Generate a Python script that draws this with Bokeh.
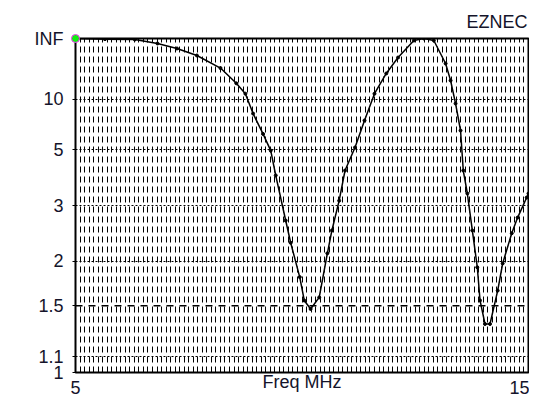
import numpy as np
from bokeh.plotting import figure
from bokeh.models import Range1d, FixedTicker, Label, Span
from bokeh.embed import file_html
from bokeh.resources import INLINE

# Frequency (MHz) and SWR
freq_mhz = [5.00, 5.65, 6.31, 6.81, 7.24, 7.68, 8.20, 8.55, 8.75, 8.92, 9.14, 9.31,
            9.42, 9.64, 9.75, 9.95, 10.05, 10.19, 10.38, 10.56, 10.66, 10.82, 10.95,
            11.17, 11.38, 11.60, 11.86, 12.12, 12.47, 12.69, 12.91, 13.17, 13.28, 13.39,
            13.50, 13.56, 13.65, 13.76, 13.87, 13.93, 14.04, 14.15, 14.32, 14.43,
            14.63, 14.76, 14.96, 15.00]
swr = [np.inf, 1000, 666, 133, 66, 38.3, 21.6, 13.9, 11.1, 7.9, 6.0, 4.96,
       3.88, 2.67, 2.27, 1.80, 1.55, 1.47, 1.58, 2.11, 2.48, 3.12, 4.06,
       5.13, 7.15, 11.1, 18.1, 34.1, 332, np.inf, 332, 25.7, 14.9, 9.27,
       6.26, 4.06, 3.31, 2.48, 1.92, 1.55, 1.34, 1.34, 1.65, 1.97,
       2.43, 2.73, 3.20, 3.31]

swr_ticks = [np.inf, 10, 5, 3, 2, 1.5, 1.1, 1]
swr_tick_labels = ["INF", "10", "5", "3", "2", "1.5", "1.1", "1"]
dashed_swr_line = 1.5
freq_ticks = [5, 15]
freq_tick_labels = ["5", "15"]


def to_rho(s):
    s = np.asarray(s, dtype=float)
    return np.where(np.isinf(s), 1.0, (s - 1.0) / (s + 1.0))


rho = to_rho(swr)
rho_ticks = [round(float(v), 5) for v in to_rho(swr_ticks)]
rho_dashed = round(float(to_rho([dashed_swr_line])[0]), 5)

TXT = "#14142a"
FONT = "Liberation Sans"
FS = "18px"

p = figure(width=529, height=398, output_backend="svg", toolbar_location=None,
           x_range=Range1d(5, 15), y_range=Range1d(0, 1),
           min_border_left=75, min_border_right=1, min_border_bottom=26,
           min_border_top=38)

p.title.text = "EZNEC"
p.title.align = "right"
p.title.text_font = FONT
p.title.text_font_size = FS
p.title.text_font_style = "normal"
p.title.text_color = TXT
p.title.standoff = 14
p.title.offset = 1

p.outline_line_color = "black"
p.outline_line_width = 2
p.background_fill_color = "white"
p.border_fill_color = "white"

# axes
p.xaxis.ticker = FixedTicker(ticks=freq_ticks)
p.xaxis.major_label_overrides = {t: l for t, l in zip(freq_ticks, freq_tick_labels)}
p.yaxis.ticker = FixedTicker(ticks=rho_ticks)
p.yaxis.major_label_overrides = {t: l for t, l in zip(rho_ticks, swr_tick_labels)}

for ax in (p.xaxis[0], p.yaxis[0]):
    ax.axis_line_color = None
    ax.minor_tick_line_color = None
    ax.major_tick_in = 0
    ax.major_label_text_font = FONT
    ax.major_label_text_font_size = FS
    ax.major_label_text_color = TXT

p.xaxis.major_tick_out = 0
p.xaxis.major_label_standoff = 8
p.yaxis.major_tick_out = 3
p.yaxis.major_tick_line_color = "black"
p.yaxis.major_label_standoff = 9

p.xaxis.axis_label = "Freq MHz"
p.xaxis.axis_label_text_font = FONT
p.xaxis.axis_label_text_font_size = FS
p.xaxis.axis_label_text_font_style = "normal"
p.xaxis.axis_label_text_color = TXT
p.xaxis.axis_label_standoff = -25

# grids
p.xgrid.ticker = FixedTicker(ticks=[round(v, 2) for v in np.arange(5.0, 15.0001, 0.1)])
p.xgrid.grid_line_color = "black"
p.xgrid.grid_line_width = 1
p.xgrid.grid_line_dash = "6 4"

p.ygrid.ticker = FixedTicker(ticks=[t for t in rho_ticks if t != rho_dashed])
p.ygrid.grid_line_color = "black"
p.ygrid.grid_line_width = 1
p.ygrid.grid_line_dash = "2 2"
p.add_layout(Span(location=rho_dashed, dimension="width", line_color="black",
                  line_width=1.5, line_dash="7 6", level="underlay"))

# SWR label
p.add_layout(Label(x=5, y=0.58, x_offset=-17, text="SWR", text_align="right",
                   text_baseline="middle", text_font=FONT, text_font_size=FS,
                   text_color=TXT))

# curve
p.line(freq_mhz, rho, line_color="black", line_width=1.5)
p.scatter(freq_mhz, rho, size=3, color="black")
p.scatter(freq_mhz[:1], rho[:1], size=8, fill_color="#11ee11", line_color="#ff33ff",
          line_width=1, level="overlay")

open("out.html", "w").write(file_html(p, INLINE))
